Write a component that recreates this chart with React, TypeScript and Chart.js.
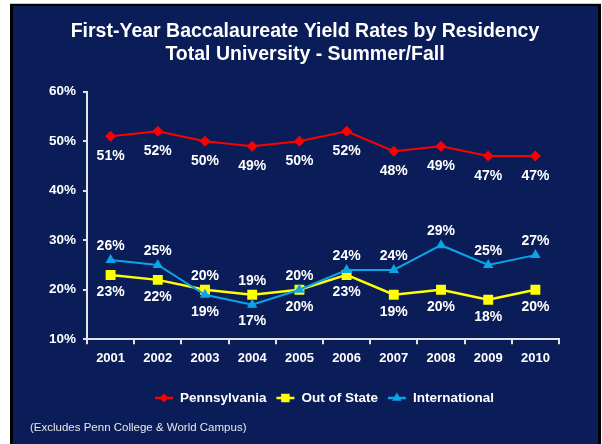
import React, { useEffect, useRef } from 'react';
import { Chart, registerables } from 'chart.js';

Chart.register(...registerables);

const years = ['2001', '2002', '2003', '2004', '2005', '2006', '2007', '2008', '2009', '2010'];
const pennsylvania = [51, 52, 50, 49, 50, 52, 48, 49, 47, 47];
const outOfState = [23, 22, 20, 19, 20, 23, 19, 20, 18, 20];
const international = [26, 25, 19, 17, 20, 24, 24, 29, 25, 27];
const yTicks = [10, 20, 30, 40, 50, 60];
const seriesNames = ['Pennsylvania', 'Out of State', 'International'];
const titleLines = ['First-Year Baccalaureate Yield Rates by Residency', 'Total University - Summer/Fall'];
const footnote = '(Excludes Penn College & World Campus)';
// 1 = label below the point, -1 = label above the point
const paLabelSide = [1, 1, 1, 1, 1, 1, 1, 1, 1, 1];
const oosLabelSide = [1, 1, -1, -1, -1, 1, 1, 1, 1, 1];
const intlLabelSide = [-1, -1, 1, 1, 1, -1, -1, -1, -1, -1];

const FONT = '"Liberation Sans", Arial, Helvetica, sans-serif';
const NAVY = '#0b1d58';
const RED = '#ff0000';
const YELLOW = '#ffff00';
const BLUE = '#0aa5e6';
const AXIS = '#e4e4e4';

function drawMarker(ctx: CanvasRenderingContext2D, style: string, x: number, y: number, r: number, color: string) {
  ctx.fillStyle = color;
  ctx.beginPath();
  if (style === 'rectRot') {
    ctx.moveTo(x - r, y);
    ctx.lineTo(x, y - r);
    ctx.lineTo(x + r, y);
    ctx.lineTo(x, y + r);
  } else if (style === 'rect') {
    const s = r * Math.SQRT1_2;
    ctx.rect(x - s, y - s, 2 * s, 2 * s);
  } else {
    ctx.moveTo(x, y - r);
    ctx.lineTo(x + r * 0.866, y + r * 0.5);
    ctx.lineTo(x - r * 0.866, y + r * 0.5);
  }
  ctx.closePath();
  ctx.fill();
}

const backgroundPlugin = {
  id: 'panelBackground',
  afterLayout(chart: any) {
    // centre the title on the panel rather than on the padded layout box
    if (chart.titleBlock) {
      chart.titleBlock.left = 8;
      chart.titleBlock.right = 602;
    }
  },
  beforeDraw(chart: any) {
    const ctx = chart.ctx;
    ctx.save();
    ctx.fillStyle = '#ffffff';
    ctx.fillRect(0, 0, chart.width, chart.height);
    ctx.fillStyle = '#c8c8c8';
    ctx.fillRect(10, 3, 591, 1);
    ctx.fillStyle = '#000000';
    ctx.fillRect(10, 4, 591, chart.height - 4);
    ctx.fillStyle = NAVY;
    ctx.fillRect(13, 6, 585, chart.height - 6);
    ctx.restore();
  },
};

const dataLabelPlugin = {
  id: 'pointValueLabels',
  afterDatasetsDraw(chart: any) {
    const ctx = chart.ctx;
    ctx.save();
    ctx.font = `bold 14px ${FONT}`;
    ctx.fillStyle = '#ffffff';
    ctx.textAlign = 'center';
    ctx.textBaseline = 'middle';
    chart.data.datasets.forEach((ds: any, di: number) => {
      const meta = chart.getDatasetMeta(di);
      const sides: number[] = ds.labelSides;
      meta.data.forEach((pt: any, i: number) => {
        const side = sides[i];
        const off = side > 0 ? (di === 0 ? 20 : 17) : -14;
        ctx.fillText(ds.data[i] + '%', pt.x, pt.y + off);
      });
    });
    ctx.restore();
  },
};

const legendFootPlugin = {
  id: 'customLegendFoot',
  afterDraw(chart: any) {
    const ctx = chart.ctx;
    const area = chart.chartArea;
    ctx.save();
    ctx.font = `bold 13.5px ${FONT}`;
    ctx.textBaseline = 'middle';
    ctx.textAlign = 'left';
    const styles = ['rectRot', 'rect', 'triangle'];
    const colors = [RED, YELLOW, BLUE];
    const radii = [4.5, 6, 5.5];
    const lineW = 18;
    const gap = 7;
    const between = 10;
    const widths = seriesNames.map((n) => ctx.measureText(n).width);
    const total = widths.reduce((a, b) => a + b, 0) + seriesNames.length * (lineW + gap) + (seriesNames.length - 1) * between;
    let x = (area.left + area.right) / 2 + 1.5 - total / 2;
    const y = 398;
    seriesNames.forEach((name, i) => {
      ctx.strokeStyle = colors[i];
      ctx.lineWidth = 2.5;
      ctx.beginPath();
      ctx.moveTo(x, y);
      ctx.lineTo(x + lineW, y);
      ctx.stroke();
      drawMarker(ctx, styles[i], x + lineW / 2, y, radii[i], colors[i]);
      ctx.fillStyle = '#ffffff';
      ctx.fillText(name, x + lineW + gap, y);
      x += lineW + gap + widths[i] + between;
    });
    ctx.font = `11.5px ${FONT}`;
    ctx.fillStyle = '#e8e8e8';
    ctx.fillText(footnote, 30, 428);
    ctx.restore();
  },
};

export default function App() {
  const canvasRef = useRef<HTMLCanvasElement | null>(null);

  useEffect(() => {
    document.body.style.margin = '0';
    const canvas = canvasRef.current;
    if (!canvas) return;
    const chart = new Chart(canvas, {
      type: 'line',
      data: {
        labels: years,
        datasets: [
          {
            label: seriesNames[0],
            data: pennsylvania,
            borderColor: RED,
            backgroundColor: RED,
            borderWidth: 2,
            pointStyle: 'rectRot',
            pointRadius: 5.5,
            pointBorderWidth: 0,
            tension: 0,
            order: 0,
            labelSides: paLabelSide,
          } as any,
          {
            label: seriesNames[1],
            data: outOfState,
            borderColor: YELLOW,
            backgroundColor: YELLOW,
            borderWidth: 2.5,
            pointStyle: 'rect',
            pointRadius: 7,
            pointBorderWidth: 0,
            tension: 0,
            order: 2,
            labelSides: oosLabelSide,
          } as any,
          {
            label: seriesNames[2],
            data: international,
            borderColor: BLUE,
            backgroundColor: BLUE,
            borderWidth: 2,
            pointStyle: 'triangle',
            pointRadius: 6,
            pointBorderWidth: 0,
            tension: 0,
            order: 1,
            labelSides: intlLabelSide,
          } as any,
        ],
      },
      options: {
        responsive: false,
        animation: false,
        devicePixelRatio: 1,
        layout: { padding: { left: 8, right: 43, top: 0, bottom: 74.7 } },
        plugins: {
          legend: { display: false },
          tooltip: { enabled: false },
          title: {
            display: true,
            text: titleLines,
            color: '#ffffff',
            font: { family: FONT, size: 19.5, weight: 'bold', lineHeight: 1.154 },
            padding: { top: 20.5, bottom: 26.2 },
          },
        },
        scales: {
          x: {
            type: 'category',
            offset: true,
            grid: { offset: true, drawOnChartArea: false, drawTicks: true, tickLength: 5, color: AXIS, lineWidth: 2 },
            border: { display: true, color: AXIS, width: 2 },
            ticks: { color: '#ffffff', font: { family: FONT, size: 13, weight: 'bold' }, padding: 6, maxRotation: 0, autoSkip: false },
            afterFit: (s: any) => { s.height = 30; },
          },
          y: {
            type: 'linear',
            min: 10,
            max: 60,
            grid: { drawOnChartArea: false, drawTicks: true, tickLength: 4, color: AXIS, lineWidth: 2 },
            border: { display: true, color: AXIS, width: 2 },
            ticks: {
              color: '#ffffff',
              font: { family: FONT, size: 13.5, weight: 'bold' },
              padding: 7,
              callback: (v: any) => v + '%',
            },
            afterBuildTicks: (s: any) => { s.ticks = yTicks.map((v) => ({ value: v })); },
            afterFit: (s: any) => { s.width = 79; },
          },
        },
      },
      plugins: [backgroundPlugin, dataLabelPlugin, legendFootPlugin],
    });
    return () => chart.destroy();
  }, []);

  return (
    <div style={{ width: 602, height: 444, position: 'relative' }}>
      <canvas ref={canvasRef} width={602} height={444} style={{ display: 'block', width: 602, height: 444 }} />
    </div>
  );
}
